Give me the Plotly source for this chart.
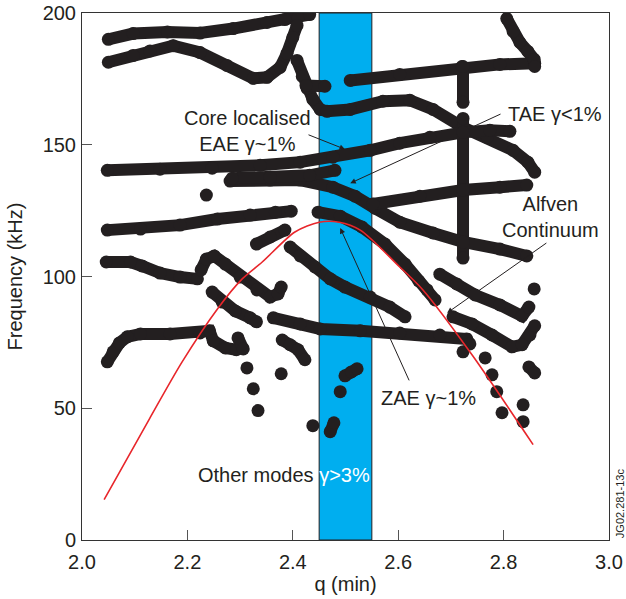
import plotly.graph_objects as go

INK = "#231F20"
BAND = "#00AEEF"
RED = "#E8262B"
FONT = "Liberation Sans, Arial, Helvetica, sans-serif"

# ---- axis ticks ----
x_ticks = [2.0, 2.2, 2.4, 2.6, 2.8, 3.0]
x_tick_labels = ["2.0", "2.2", "2.4", "2.6", "2.8", "3.0"]
y_ticks = [0, 50, 100, 150, 200]
y_tick_labels = ["0", "50", "100", "150", "200"]

# ---- high-growth band (q range) ----
band_q = [2.45, 2.55]

# ---- mode tracks: q (min) and frequency (kHz) ----
T1_q = [2.050, 2.097, 2.162, 2.224, 2.287, 2.351, 2.385, 2.410, 2.432]
T1_f = [190.0, 192.2, 192.8, 192.4, 194.1, 196.4, 197.5, 198.3, 199.4]

T2_q = [2.050, 2.097, 2.129, 2.173, 2.224, 2.275, 2.325, 2.351, 2.376, 2.389, 2.400, 2.408]
T2_f = [181.3, 183.9, 185.6, 187.6, 185.0, 180.1, 175.2, 175.6, 179.4, 184.7, 190.7, 195.3]

T3_q = [2.408, 2.418, 2.427, 2.438, 2.452, 2.465, 2.509, 2.571, 2.622, 2.666, 2.723, 2.769, 2.818, 2.846, 2.859]
T3_f = [182.0, 175.9, 171.4, 167.2, 163.4, 162.7, 163.4, 166.5, 166.9, 163.4, 156.6, 152.8, 147.9, 143.4, 139.6]

S1_q = [2.425, 2.461]
S1_f = [172.5, 172.2]

T5_q = [2.509, 2.603, 2.721, 2.793, 2.859]
T5_f = [174.4, 176.7, 179.7, 180.5, 180.9]

T6_q = [2.806, 2.818, 2.831, 2.846, 2.858, 2.859]
T6_f = [197.9, 193.0, 188.8, 185.4, 182.4, 179.7]

V1_q = [2.723, 2.723]
V1_f = [179.7, 166.1]

V2_q = [2.723, 2.723]
V2_f = [160.0, 107.0]

EAE_q = [2.048, 2.148, 2.247, 2.338, 2.414, 2.476, 2.547, 2.603, 2.660, 2.723, 2.774, 2.812]
EAE_f = [140.3, 140.7, 141.1, 142.2, 143.4, 145.3, 147.9, 150.6, 152.8, 154.7, 155.5, 155.1]

TAE_q = [2.281, 2.357, 2.414, 2.476, 2.518, 2.556, 2.603, 2.666, 2.723, 2.793, 2.844]
TAE_f = [136.2, 136.6, 136.6, 133.9, 130.5, 125.9, 120.6, 116.5, 113.1, 110.4, 107.8]

T20_q = [2.285, 2.357, 2.432, 2.480]
T20_f = [137.3, 137.7, 138.4, 140.3]

T9_q = [2.552, 2.641, 2.723, 2.793, 2.844]
T9_f = [127.5, 130.5, 132.8, 133.9, 134.7]

T10_q = [2.048, 2.111, 2.186, 2.257, 2.319, 2.367, 2.397]
T10_f = [117.6, 118.0, 119.5, 121.8, 123.3, 124.4, 124.8]

T18_q = [2.331, 2.357, 2.385]
T18_f = [112.3, 115.0, 117.6]

T12_q = [2.046, 2.092, 2.114, 2.148, 2.186, 2.219]
T12_f = [105.5, 105.5, 104.0, 101.3, 99.8, 99.1]

T16_q = [2.226, 2.236, 2.251, 2.272, 2.300, 2.332, 2.357, 2.372, 2.378]
T16_f = [102.5, 106.6, 107.8, 104.7, 99.8, 94.9, 92.2, 93.4, 96.0]

T17_q = [2.247, 2.266, 2.291, 2.319, 2.331]
T17_f = [94.1, 90.3, 86.9, 84.3, 82.8]

T14_q = [2.048, 2.059, 2.071, 2.086, 2.111, 2.167, 2.224, 2.242, 2.249, 2.272, 2.293]
T14_f = [67.6, 71.4, 74.8, 77.1, 78.2, 78.2, 78.6, 79.4, 75.6, 72.9, 72.2]

C1_q = [2.296, 2.306]
C1_f = [76.7, 72.5]

T13_q = [2.363, 2.414, 2.452, 2.528, 2.603, 2.679, 2.730, 2.736]
T13_f = [84.3, 82.0, 80.1, 79.4, 78.6, 77.8, 76.3, 74.4]

T15_q = [2.380, 2.395, 2.410, 2.423]
T15_f = [75.9, 74.1, 72.2, 68.4]

T11_q = [2.395, 2.414, 2.442, 2.471, 2.499, 2.547, 2.584, 2.613]
T11_f = [111.2, 107.8, 103.6, 99.1, 96.0, 92.2, 88.4, 84.7]

ZAE_q = [2.448, 2.490, 2.531, 2.575, 2.613, 2.639, 2.655, 2.670]
ZAE_f = [124.4, 122.9, 118.8, 112.3, 104.7, 98.3, 94.9, 91.1]

R1_q = [2.679, 2.711, 2.746, 2.793, 2.835, 2.848]
R1_f = [100.9, 97.2, 93.0, 89.2, 85.0, 88.4]

R2_q = [2.704, 2.740, 2.778, 2.816, 2.835, 2.850, 2.859]
R2_f = [84.7, 82.0, 77.8, 73.3, 74.1, 77.8, 81.3]

C2_q = [2.471, 2.478]
C2_f = [41.1, 44.5]

C3_q = [2.499, 2.511, 2.522]
C3_f = [62.3, 63.8, 65.0]

C4_q = [2.848, 2.859]
C4_f = [65.7, 63.4]

# isolated mode points
dots_q = [2.236, 2.313, 2.325, 2.334, 2.378, 2.438, 2.490, 2.723, 2.765, 2.778, 2.787, 2.797, 2.837, 2.837, 2.858]
dots_f = [130.9, 65.3, 57.4, 49.1, 63.1, 43.4, 56.3, 71.4, 69.1, 62.7, 56.3, 48.3, 51.3, 44.9, 95.3]

# ---- Alfven continuum (red) ----
red_q = [2.042, 2.128, 2.190, 2.257, 2.304, 2.342, 2.404, 2.450, 2.488, 2.528, 2.603, 2.647, 2.740, 2.856]
red_f = [15.3, 46.0, 67.6, 87.7, 99.1, 105.5, 116.9, 120.6, 120.6, 117.6, 103.6, 94.9, 70.3, 36.2]

tracks = [
    (T1_q, T1_f), (T2_q, T2_f), (T3_q, T3_f), (S1_q, S1_f), (T5_q, T5_f),
    (T6_q, T6_f), (V1_q, V1_f), (V2_q, V2_f), (EAE_q, EAE_f), (TAE_q, TAE_f),
    (T20_q, T20_f), (T9_q, T9_f), (T10_q, T10_f), (T18_q, T18_f), (T12_q, T12_f),
    (T16_q, T16_f), (T17_q, T17_f), (T14_q, T14_f), (C1_q, C1_f), (T13_q, T13_f),
    (T15_q, T15_f), (T11_q, T11_f), (ZAE_q, ZAE_f), (R1_q, R1_f), (R2_q, R2_f),
    (C2_q, C2_f), (C3_q, C3_f), (C4_q, C4_f),
]

fig = go.Figure()

for q, f in tracks:
    fig.add_trace(go.Scatter(
        x=q, y=f, mode="lines+markers",
        line=dict(color=INK, width=12),
        marker=dict(color=INK, size=13),
        hoverinfo="skip", showlegend=False,
    ))

fig.add_trace(go.Scatter(
    x=dots_q, y=dots_f, mode="markers",
    marker=dict(color=INK, size=13),
    hoverinfo="skip", showlegend=False,
))

fig.add_trace(go.Scatter(
    x=red_q, y=red_f, mode="lines",
    line=dict(color=RED, width=1.6, shape="spline", smoothing=0.8),
    hoverinfo="skip", showlegend=False,
))

fig.add_shape(type="rect", xref="x", yref="y",
              x0=band_q[0], x1=band_q[1], y0=0, y1=200,
              fillcolor=BAND, line=dict(color=INK, width=1), layer="below")

txt = dict(family=FONT, size=20, color=INK)
arrow = dict(showarrow=True, arrowhead=2, arrowsize=1.1, arrowwidth=1,
             arrowcolor=INK, axref="x", ayref="y", xref="x", yref="y", text="")

annotations = [
    dict(x=2.314, y=155.3, text="Core localised<br>EAE γ~1%", showarrow=False, font=txt),
    dict(x=2.897, y=161.6, text="TAE γ<1%", showarrow=False, font=txt),
    dict(x=2.889, y=122.6, text="Alfven<br>Continuum", showarrow=False, font=txt),
    dict(x=2.657, y=54.0, text="ZAE γ~1%", showarrow=False, font=txt),
    dict(x=2.384, y=24.8, text="Other modes <span style='color:white'>γ>3%</span>",
         showarrow=False, font=txt),
    dict(x=2.499, y=148.3, ax=2.427, ay=154.0, **arrow),
    dict(x=2.509, y=135.4, ax=2.797, ay=161.9, **arrow),
    dict(x=2.693, y=86.2, ax=2.884, ay=113.1, **arrow),
    dict(x=2.490, y=118.4, ax=2.622, ay=60.0, **arrow),
    dict(x=1.021, y=0.07, xref="paper", yref="paper", text="JG02.281-13c",
         textangle=-90, showarrow=False, font=dict(family=FONT, size=11, color=INK)),
]
for a in annotations:
    a.setdefault("xref", "x")
    a.setdefault("yref", "y")
    a.setdefault("xanchor", "center")
    a.setdefault("yanchor", "middle")
    fig.add_annotation(**a)

axis_common = dict(
    showline=True, linecolor="#333333", linewidth=1, mirror=True,
    ticks="inside", ticklen=10, tickwidth=1, tickcolor="#555555",
    showgrid=False, zeroline=False,
    tickfont=dict(family=FONT, size=20, color=INK),
)

fig.update_xaxes(range=[2.0, 3.0], tickvals=x_ticks, ticktext=x_tick_labels,
                 ticklabelstandoff=4,
                 title=dict(text="q (min)", font=dict(family=FONT, size=20, color=INK), standoff=4),
                 **axis_common)
fig.update_yaxes(range=[0, 200], tickvals=y_ticks, ticktext=y_tick_labels,
                 ticklabelstandoff=1,
                 title=dict(text="Frequency (kHz)", font=dict(family=FONT, size=20, color=INK), standoff=14),
                 **axis_common)

fig.update_layout(
    width=626, height=599,
    margin=dict(l=82, r=17, t=13, b=59, autoexpand=False),
    plot_bgcolor="white", paper_bgcolor="white",
    showlegend=False,
)

fig.write_html("out.html")
